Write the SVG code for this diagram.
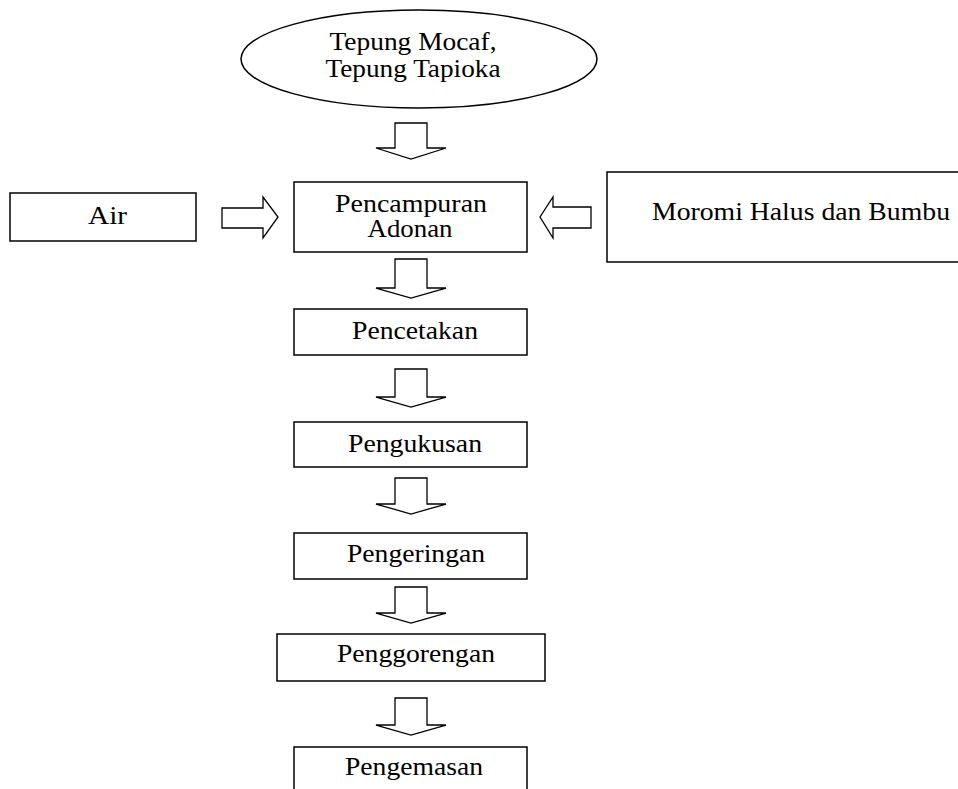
<svg xmlns="http://www.w3.org/2000/svg" width="958" height="789" viewBox="0 0 958 789">
<style>
.box{fill:#fff;stroke:#000;stroke-width:1.5}
.arr{fill:#fff;stroke:#000;stroke-width:1.3;stroke-linejoin:miter}
text{font-family:"Liberation Serif","Times New Roman",serif;font-size:25px;fill:#000;text-anchor:middle}
</style>
<rect width="958" height="789" fill="#fff"/>
<g id="connectors">
<path class="arr" d="M395,123 H427 V148 H446 L411,159 L376,148 H395 Z"/>
<path class="arr" d="M395,259 H427 V288 H446 L411,298 L376,288 H395 Z"/>
<path class="arr" d="M395,369 H427 V397 H446 L411,407 L376,397 H395 Z"/>
<path class="arr" d="M395,478 H427 V504 H446 L411,514 L376,504 H395 Z"/>
<path class="arr" d="M395,587 H427 V613 H446 L411,623 L376,613 H395 Z"/>
<path class="arr" d="M395,698 H427 V725 H446 L411,735 L376,725 H395 Z"/>
<path class="arr" d="M222,208 H263 V197 L278,217 L263,238 V228 H222 Z"/>
<path class="arr" d="M591,207 H553 V197 L540,217 L553,238 V228 H591 Z"/>
</g>
<g id="bahan">
<ellipse class="box" cx="419" cy="59" rx="178" ry="49"/>
<text x="413" y="50" textLength="167" lengthAdjust="spacingAndGlyphs">Tepung Mocaf,</text>
<text x="413" y="77" textLength="175" lengthAdjust="spacingAndGlyphs">Tepung Tapioka</text>
</g>
<g id="air">
<rect class="box" x="10" y="193" width="186" height="48"/>
<text x="107.5" y="224" textLength="39" lengthAdjust="spacingAndGlyphs">Air</text>
</g>
<g id="pencampuran">
<rect class="box" x="294" y="182" width="233" height="70"/>
<text x="411" y="212" textLength="152" lengthAdjust="spacingAndGlyphs">Pencampuran</text>
<text x="410" y="237" textLength="85" lengthAdjust="spacingAndGlyphs">Adonan</text>
</g>
<g id="moromi">
<rect class="box" x="607" y="172" width="360" height="90"/>
<text x="801" y="220" textLength="298" lengthAdjust="spacingAndGlyphs">Moromi Halus dan Bumbu</text>
</g>
<g id="pencetakan">
<rect class="box" x="294" y="309" width="233" height="46"/>
<text x="415" y="339" textLength="126" lengthAdjust="spacingAndGlyphs">Pencetakan</text>
</g>
<g id="pengukusan">
<rect class="box" x="294" y="422" width="233" height="45"/>
<text x="415" y="452" textLength="134" lengthAdjust="spacingAndGlyphs">Pengukusan</text>
</g>
<g id="pengeringan">
<rect class="box" x="294" y="533" width="233" height="46"/>
<text x="416" y="562" textLength="138" lengthAdjust="spacingAndGlyphs">Pengeringan</text>
</g>
<g id="penggorengan">
<rect class="box" x="277" y="634" width="268" height="47"/>
<text x="416" y="662" textLength="158" lengthAdjust="spacingAndGlyphs">Penggorengan</text>
</g>
<g id="pengemasan">
<rect class="box" x="294" y="747" width="233" height="60"/>
<text x="414" y="775" textLength="138" lengthAdjust="spacingAndGlyphs">Pengemasan</text>
</g>
</svg>
